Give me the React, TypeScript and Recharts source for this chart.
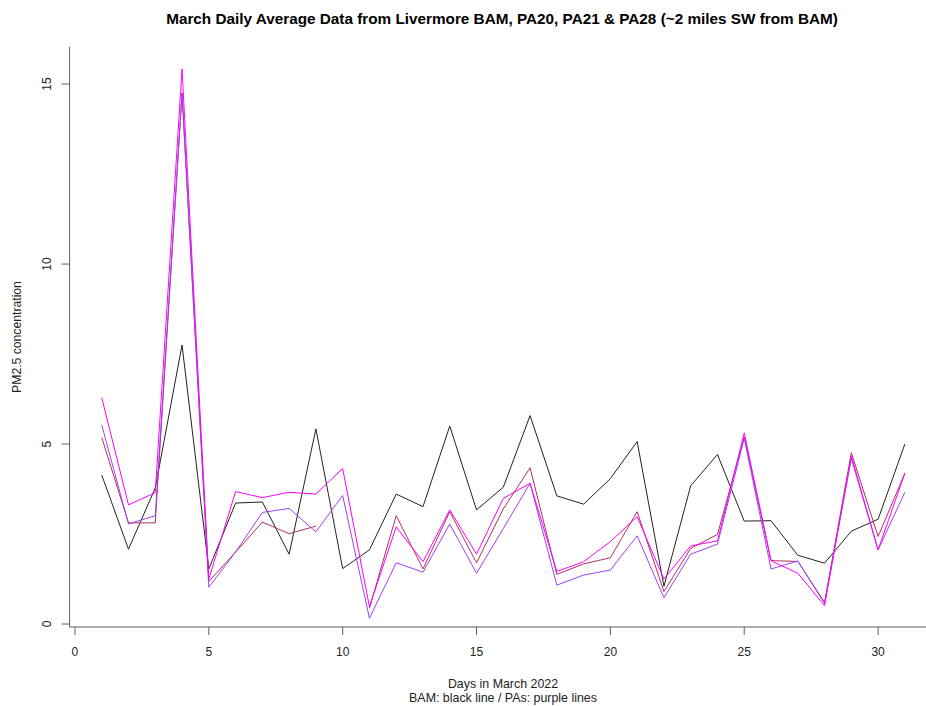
import React from "react";
import { LineChart, Line, XAxis, YAxis } from "recharts";

const days = [1, 2, 3, 4, 5, 6, 7, 8, 9, 10, 11, 12, 13, 14, 15, 16, 17, 18, 19, 20, 21, 22, 23, 24, 25, 26, 27, 28, 29, 30, 31];
const bam = [4.14, 2.08, 3.78, 7.75, 1.53, 3.36, 3.39, 1.94, 5.42, 1.54, 2.06, 3.61, 3.26, 5.5, 3.17, 3.8, 5.79, 3.56, 3.33, 4.04, 5.07, 1.05, 3.84, 4.71, 2.86, 2.87, 1.91, 1.69, 2.58, 2.91, 5.0];
const pa20 = [6.29, 3.31, 3.65, 15.42, 1.25, 3.68, 3.51, 3.66, 3.61, 4.32, 0.48, 2.7, 1.73, 3.17, 1.94, 3.49, 3.91, 1.46, 1.73, 2.29, 2.98, 1.25, 2.17, 2.31, 5.31, 1.76, 1.41, 0.51, 4.67, 2.06, 4.19];
const pa21 = [5.53, 2.78, 3.01, 14.75, 1.02, 2.0, 3.1, 3.21, 2.56, 3.57, 0.16, 1.7, 1.44, 2.78, 1.41, 2.65, 3.91, 1.08, 1.36, 1.5, 2.45, 0.73, 1.94, 2.22, 5.16, 1.53, 1.75, 0.57, 4.6, 2.06, 3.66];
const pa28: (number | null)[] = [5.18, 2.81, 2.81, 14.75, 1.18, 2.0, 2.83, 2.51, 2.72, null, 0.44, 3.01, 1.53, 3.12, 1.7, 3.2, 4.34, 1.38, 1.67, 1.84, 3.12, 0.9, 2.1, 2.49, 5.2, 1.76, 1.74, 0.6, 4.76, 2.43, 4.19];

const xTicks = [0, 5, 10, 15, 20, 25, 30];
const yTicks = [0, 5, 10, 15];

const title = "March Daily Average Data from Livermore BAM, PA20, PA21 & PA28 (~2 miles SW from BAM)";
const xLabel1 = "Days in March 2022";
const xLabel2 = "BAM: black line / PAs: purple lines";
const yLabel = "PM2.5 concentration";

const data = days.map((d, i) => ({ day: d, bam: bam[i], pa20: pa20[i], pa21: pa21[i], pa28: pa28[i] }));

const FONT = "'Liberation Sans', Arial, sans-serif";
const AXIS = "#5e5e5e";
const TXT = "#222";

const XTick = (props: any) => (
  <text x={props.x} y={655.5} textAnchor="middle" fontSize={12} fontFamily={FONT} fill={TXT}>
    {props.payload.value}
  </text>
);

const YTick = (props: any) => (
  <text
    x={51}
    y={props.y}
    transform={`rotate(-90, 51, ${props.y})`}
    textAnchor="middle"
    fontSize={12}
    fontFamily={FONT}
    fill={TXT}
  >
    {props.payload.value}
  </text>
);

export default function App() {
  return (
    <div style={{ position: "absolute", left: 0, top: 0, width: 926, height: 706, overflow: "hidden", background: "#fff" }}>
      <LineChart width={940} height={706} data={data} margin={{ top: 47, right: 3, bottom: 0, left: 0 }}>
        <XAxis
          dataKey="day"
          type="number"
          domain={[-0.2, 32.2]}
          ticks={xTicks}
          interval={0}
          allowDataOverflow
          height={79}
          tickSize={8}
          stroke={AXIS}
          tick={<XTick />}
        />
        <XAxis
          xAxisId="top"
          orientation="top"
          dataKey="day"
          type="number"
          domain={[-0.2, 32.2]}
          height={0}
          tick={false}
          tickLine={false}
          stroke={AXIS}
        />
        <YAxis
          type="number"
          domain={[-0.083, 16.03]}
          ticks={yTicks}
          interval={0}
          allowDataOverflow
          width={69.6}
          tickSize={8}
          stroke={AXIS}
          tick={<YTick />}
        />
        <Line dataKey="bam" stroke="#222" strokeWidth={1} dot={false} isAnimationActive={false} />
        <Line dataKey="pa28" stroke="#B03060" strokeWidth={1} dot={false} isAnimationActive={false} />
        <Line dataKey="pa21" stroke="#A040F0" strokeWidth={1} dot={false} isAnimationActive={false} />
        <Line dataKey="pa20" stroke="#FF00FF" strokeWidth={1} dot={false} isAnimationActive={false} />
      </LineChart>
      <svg width={926} height={706} style={{ position: "absolute", left: 0, top: 0, pointerEvents: "none" }}>
        <text x={502} y={23.5} textAnchor="middle" fontSize={15.3} fontWeight="bold" fontFamily={FONT} fill="#000">
          {title}
        </text>
        <text x={503} y={688} textAnchor="middle" fontSize={12.4} fontFamily={FONT} fill={TXT}>
          {xLabel1}
        </text>
        <text x={503} y={702} textAnchor="middle" fontSize={12.4} fontFamily={FONT} fill={TXT}>
          {xLabel2}
        </text>
        <text x={21} y={337} transform="rotate(-90, 21, 337)" textAnchor="middle" fontSize={12.2} fontFamily={FONT} fill={TXT}>
          {yLabel}
        </text>
      </svg>
    </div>
  );
}
